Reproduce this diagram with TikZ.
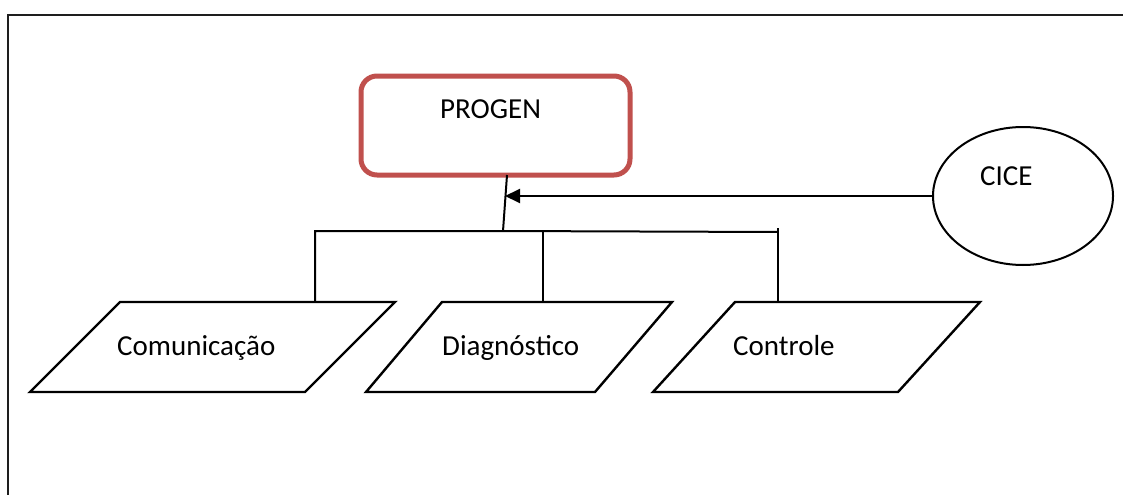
\documentclass[tikz,border=0pt]{standalone}
\usepackage{fontspec}
\setmainfont{Carlito}
\usetikzlibrary{arrows.meta,shapes.geometric}
\definecolor{progenred}{RGB}{192,80,77}
\definecolor{framegray}{RGB}{30,30,30}
\begin{document}
\begin{tikzpicture}[x=1pt,y=-1pt,
  lbl/.style={font=\fontsize{29}{34}\selectfont, inner sep=0pt, anchor=base west},
  wire/.style={line width=2pt, black},
  shapeline/.style={line width=2.4pt, black, line join=miter},
  progenbox/.style={draw=progenred, line width=5pt, rounded corners=16pt,
    minimum width=269pt, minimum height=99pt, inner sep=0pt},
  ciceshape/.style={draw, ellipse, line width=2pt, minimum width=180pt,
    minimum height=138pt, inner sep=0pt},
  tip/.style={-{Triangle[length=15pt,width=14pt]}}]
\useasboundingbox (0,0) rectangle (1123,495);

% outer frame (top and left edges)
\draw[line width=2.2pt, framegray] (1123,15) -- (8,15) -- (8,495);

% main block and its title
\node[progenbox] (progen) at (495.5,125.5) {};
\node[lbl] (progentxt) at (440,118) {PROGEN};

% external entity
\node[ciceshape] (cice) at (1023,196) {};
\node[lbl] (cicetxt) at (980,185) {CICE};

% the three sub-modules
\coordinate (c1a) at (120,302); \coordinate (c1b) at (395,302);
\coordinate (c1c) at (305,392); \coordinate (c1d) at (30,392);
\draw[shapeline] (c1a) -- (c1b) -- (c1c) -- (c1d) -- cycle;
\node[lbl] (comtxt) at (117,355) {Comunicação};

\coordinate (c2a) at (442,302); \coordinate (c2b) at (672,302);
\coordinate (c2c) at (595,392); \coordinate (c2d) at (366,392);
\draw[shapeline] (c2a) -- (c2b) -- (c2c) -- (c2d) -- cycle;
\node[lbl] (diagtxt) at (442,355) {Diagnóstico};

\coordinate (c3a) at (735,302); \coordinate (c3b) at (980,302);
\coordinate (c3c) at (898,392); \coordinate (c3d) at (653,392);
\draw[shapeline] (c3a) -- (c3b) -- (c3c) -- (c3d) -- cycle;
\node[lbl] (ctrltxt) at (733,355) {Controle};

% tree connectors
\coordinate (pbot) at (507,175);
\coordinate (hub) at (503,231);
\coordinate (leftcorner) at (315,231);
\coordinate (rightcorner) at (778,232);
\coordinate (midtop) at (543,231);
\coordinate (com) at (315,302);
\coordinate (diag) at (543,302);
\coordinate (ctrl) at (778,302);
\coordinate (ctrltop) at (778,228);
\coordinate (arrowend) at (505,196);

\draw[wire] (pbot) -- (hub);
\draw[wire] (com) -- (leftcorner) -- (hub) -- (rightcorner);
\draw[wire] (midtop) -- (diag);
\draw[wire] (ctrltop) -- (ctrl);

% input from CICE
\draw[wire, tip] (cice.west) -- (arrowend);
\end{tikzpicture}
\end{document}
